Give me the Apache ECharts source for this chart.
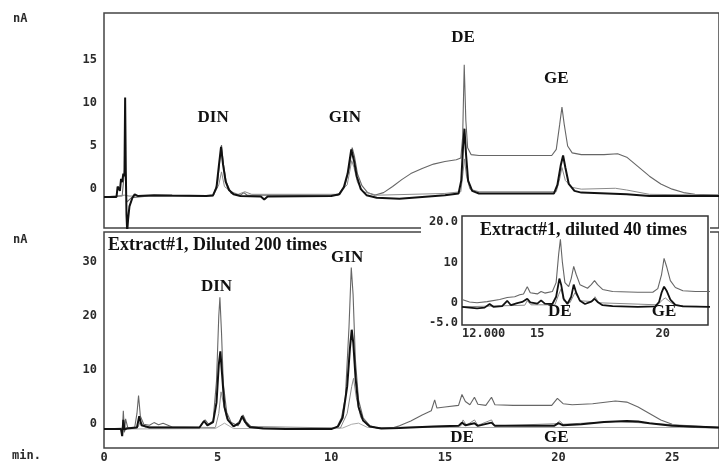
<!DOCTYPE html>
<html>
<head>
<meta charset="utf-8">
<script src="https://cdn.jsdelivr.net/npm/echarts@6.0.0/dist/echarts.min.js"></script>
<style>
html, body { margin: 0; padding: 0; background: #fff; }
#chart { width: 719px; height: 465px; }
</style>
</head>
<body>
<div id="chart"></div>
<script>
// tick labels
var mainTicksX = [0, 5, 10, 15, 20, 25];
var topTicksY = [0, 5, 10, 15];
var bottomTicksY = [0, 10, 20, 30];
var insetTicksX = [12, 15, 20];
var insetTicksY = [-5, 0, 10, 20];

// upper panel: standards (min, nA)
var topBlack = [[0,-0.9],[0.55,-0.9],[0.6,0.3],[0.65,0.5],[0.7,-0.2],[0.75,1.2],[0.8,0.8],[0.85,1.8],[0.9,1.5],[0.93,10.6],[0.96,2],[0.99,-3],[1.02,-4.9],[1.06,-3.5],[1.12,-2.0],[1.25,-1.0],[1.35,-0.6],[1.5,-0.8],[2.2,-0.7],[3.0,-0.75],[4.5,-0.8],[4.8,-0.7],[4.95,0.2],[5.05,2.6],[5.15,4.9],[5.24,2.8],[5.35,0.9],[5.5,-0.1],[5.7,-0.6],[6,-0.8],[6.9,-0.85],[7.05,-1.2],[7.2,-0.85],[10,-0.8],[10.35,-0.6],[10.55,0.2],[10.72,1.8],[10.88,4.6],[11.0,3.3],[11.12,1.5],[11.3,0.0],[11.55,-0.7],[12,-1],[13,-1.1],[14,-0.9],[15,-0.7],[15.6,-0.5],[15.72,1],[15.8,5.0],[15.86,7.0],[15.93,4],[16.02,1],[16.2,-0.2],[16.5,-0.5],[18,-0.5],[19.8,-0.5],[19.95,0.5],[20.1,2.8],[20.2,3.9],[20.3,2.5],[20.45,0.6],[20.7,-0.2],[21,-0.4],[23,-0.6],[24,-0.8],[25,-0.8],[27.1,-0.8]];
var topHump = [[0,-0.9],[0.8,-0.8],[0.93,3],[1.0,-1.5],[1.2,-1.0],[2,-0.8],[4.8,-0.8],[5.0,0.8],[5.1,3.5],[5.17,5.1],[5.25,3],[5.38,0.8],[5.6,-0.5],[6,-0.7],[6.15,-0.4],[6.3,-0.7],[10.3,-0.7],[10.6,0.4],[10.8,2.5],[10.92,4.8],[11.02,3.8],[11.15,1.8],[11.35,0.4],[11.6,-0.4],[11.9,-0.7],[12.3,-0.4],[12.7,0.3],[13.1,1.1],[13.5,1.8],[14,2.4],[14.5,2.9],[15,3.2],[15.5,3.4],[15.7,3.6],[15.78,6],[15.85,14.4],[15.92,8],[16.0,4.8],[16.15,4.0],[16.5,3.9],[18,3.9],[19.7,3.9],[19.9,4.6],[20.05,7.5],[20.15,9.5],[20.25,7.5],[20.4,5],[20.6,4.2],[21,4.0],[22,4.0],[22.6,4.1],[23,3.7],[23.5,2.6],[24,1.5],[24.5,0.6],[25,0.0],[25.5,-0.4],[26,-0.6],[27.1,-0.7]];
var topThird = [[0,-0.9],[0.9,-0.7],[1.1,-0.8],[4.8,-0.8],[5.05,0.5],[5.17,2],[5.3,0.3],[5.6,-0.3],[5.9,-0.6],[6.2,-0.3],[6.5,-0.6],[10.3,-0.6],[10.7,0.5],[10.9,3.3],[11.0,2.5],[11.15,0.8],[11.4,-0.3],[12,-0.7],[15,-0.5],[15.7,-0.3],[15.8,2],[15.86,3.5],[15.95,1.5],[16.1,0],[16.5,-0.3],[19.9,-0.3],[20.05,1.2],[20.15,2.5],[20.3,1],[20.6,0.2],[21,0.0],[22.5,0.1],[23,-0.1],[24,-0.6],[27.1,-0.7]];

// lower panel: extract #1 diluted 200 times
var botHump = [[0,-0.9],[0.75,-0.9],[0.8,-2],[0.85,2.5],[0.9,-1.5],[0.95,1],[1.05,-0.7],[1.35,-0.6],[1.45,2],[1.52,5.3],[1.6,1.5],[1.75,0],[2.0,-0.2],[2.2,0.3],[2.4,-0.1],[2.6,0.2],[3,-0.5],[4.2,-0.6],[4.35,0.3],[4.45,0.8],[4.6,0.0],[4.8,0.6],[4.95,8],[5.05,20],[5.1,23.5],[5.17,17],[5.25,7.5],[5.4,2.2],[5.6,0.3],[5.9,-0.3],[6.05,1.2],[6.12,1.7],[6.25,0.5],[6.5,-0.6],[8,-0.8],[10,-0.9],[10.25,-0.5],[10.45,1.2],[10.62,5],[10.78,18],[10.88,29],[10.96,24],[11.06,12],[11.2,4.5],[11.4,1.2],[11.7,-0.3],[12.1,-0.8],[12.6,-0.8],[13,-0.3],[13.5,0.6],[14,1.7],[14.4,2.5],[14.55,4.5],[14.65,3.0],[15,3.2],[15.6,3.5],[15.75,5.5],[15.9,4.2],[16.1,3.6],[16.3,5],[16.45,3.7],[16.8,3.5],[17.05,5],[17.2,3.6],[18,3.5],[19.7,3.5],[19.95,4.8],[20.2,3.8],[20.6,3.6],[21.5,3.8],[22.5,4.3],[23,4.1],[23.5,3.2],[24,2],[24.5,0.8],[25,0],[25.5,-0.4],[26,-0.6],[27.1,-0.7]];
var botBlack = [[0,-0.9],[0.75,-0.9],[0.8,-2.2],[0.85,0.8],[0.9,-1],[1.0,-0.8],[1.45,-0.6],[1.55,1.5],[1.65,-0.2],[2,-0.6],[4.2,-0.6],[4.4,0.6],[4.55,-0.2],[4.8,0.4],[4.95,4],[5.05,11],[5.12,13.5],[5.2,9],[5.3,3.2],[5.45,0.8],[5.7,-0.4],[5.95,0.2],[6.08,1.5],[6.2,0.5],[6.4,-0.5],[7,-0.8],[8,-0.9],[10,-0.9],[10.3,-0.4],[10.5,1.2],[10.7,7],[10.82,14],[10.9,17.5],[10.97,15],[11.07,8.5],[11.2,3.2],[11.4,0.7],[11.7,-0.4],[12.2,-0.8],[13,-0.7],[14,-0.5],[14.5,-0.4],[15.6,-0.3],[15.75,0.3],[15.9,-0.2],[16.3,0.2],[16.45,-0.3],[17.05,0.3],[17.2,-0.3],[19.8,-0.3],[20,0.2],[20.2,-0.2],[21,0],[22,0.4],[23,0.6],[23.5,0.5],[24,0.2],[25,-0.3],[27.1,-0.6]];
var botThird = [[0,-0.9],[0.85,-0.7],[1.5,-0.5],[1.6,0.5],[1.8,-0.5],[4.9,-0.6],[5.05,2],[5.15,6],[5.25,4],[5.4,1],[5.7,-0.3],[6.1,1],[6.3,-0.4],[10.4,-0.7],[10.7,2],[10.9,7],[10.98,8.5],[11.1,5],[11.3,1.2],[11.6,-0.3],[12,-0.7],[15.7,-0.3],[15.8,0.8],[15.95,-0.2],[16.3,0.8],[16.45,-0.2],[17.05,0.8],[17.2,-0.3],[19.9,0.1],[20.05,0.6],[20.2,0.0],[22.5,0.5],[23.5,0.3],[27.1,-0.6]];
var botFaint = [[0,-0.9],[4.9,-0.8],[5.3,0.2],[5.7,-0.8],[10.5,-0.7],[10.9,0],[11.2,0.2],[11.6,-0.6],[13,-0.6],[27.1,-0.6]];

// inset: extract #1 diluted 40 times
var insGray = [[12,0.8],[12.3,0.2],[12.6,0],[13,0.3],[13.5,0.8],[13.8,1.3],[14.1,1.5],[14.3,2],[14.45,2.2],[14.6,4],[14.72,2.5],[15,2.2],[15.15,2.8],[15.3,2.4],[15.6,2.8],[15.75,5],[15.85,12],[15.92,15.7],[16.0,10],[16.1,5],[16.25,4],[16.35,6],[16.45,9],[16.55,7],[16.7,4.5],[17,3.6],[17.15,4.5],[17.28,5.5],[17.4,4.5],[17.6,3.3],[18,2.8],[19,2.6],[19.6,2.6],[19.8,3.5],[19.95,7],[20.05,11],[20.15,9],[20.3,5.5],[20.5,3.8],[20.8,3],[21.3,2.8],[21.9,2.8]];
var insBlack = [[12,-1],[12.3,-1.2],[12.6,-1.4],[12.9,-1.2],[13.1,-0.3],[13.25,-1.0],[13.6,-0.8],[13.8,0.5],[13.95,-0.6],[14.2,-0.1],[14.4,0.2],[14.6,1],[14.72,0.1],[15.0,-0.2],[15.15,0.6],[15.3,-0.2],[15.6,-0.3],[15.75,1.5],[15.88,6],[15.95,4.5],[16.05,1],[16.2,-0.3],[16.35,1.5],[16.45,4.5],[16.55,2.5],[16.7,0.5],[16.9,-0.3],[17.15,0.3],[17.28,1],[17.4,0.2],[17.6,-0.6],[18,-0.8],[19,-1],[19.7,-0.9],[19.85,0.2],[19.95,2.5],[20.05,4],[20.15,3],[20.3,0.8],[20.5,-0.5],[20.8,-0.9],[21.9,-1]];
var insThird = [[12,-1],[14.5,-0.6],[14.6,0.5],[14.75,-0.5],[15.7,-0.5],[15.85,2],[15.95,3.5],[16.05,0.5],[16.3,0],[16.5,2.5],[16.7,0.5],[17.2,0.3],[17.3,1.5],[17.45,0],[19.8,-0.5],[20.0,0.8],[20.1,1.2],[20.25,0.4],[20.5,-0.7],[21.9,-1]];

// peak names [min, nA, text]
var topPeakNames = [[4.8, 8.3, 'DIN'], [10.6, 8.3, 'GIN'], [15.8, 17.5, 'DE'], [19.9, 12.8, 'GE']];
var botPeakNames = [[4.95, 25.4, 'DIN'], [10.7, 30.9, 'GIN'], [15.75, -2.4, 'DE'], [19.9, -2.4, 'GE']];
var insPeakNames = [[15.9, -2.2, 'DE'], [20.05, -2.3, 'GE']];

var monoFont = '"DejaVu Sans Mono", monospace';
var serifFont = '"Liberation Serif", "Times New Roman", serif';

var chart = echarts.init(document.getElementById('chart'));

function trace(data, idx, color, width, z) {
	return {
		type: 'line',
		xAxisIndex: idx,
		yAxisIndex: idx,
		data: data,
		showSymbol: false,
		symbol: 'none',
		animation: false,
		z: z,
		lineStyle: { color: color, width: width }
	};
}

function names(list, idx, z) {
	return {
		type: 'scatter',
		xAxisIndex: idx,
		yAxisIndex: idx,
		symbolSize: 1,
		z: z,
		animation: false,
		itemStyle: { color: 'rgba(0,0,0,0)', opacity: 1 },
		data: list.map(function (p) { return { value: [p[0], p[1]], name: p[2] }; }),
		label: {
			show: true,
			position: 'inside',
			formatter: function (p) { return p.name; },
			fontFamily: serifFont,
			fontWeight: 'bold',
			fontSize: 17,
			color: '#111',
			opacity: 1
		}
	};
}

function valueAxis(idx, min, max, ticks, showLabel, fmt, extra) {
	var ax = {
		type: 'value',
		gridIndex: idx,
		min: min,
		max: max,
		axisLine: { show: false },
		axisTick: { show: false },
		splitLine: { show: false },
		axisLabel: {
			show: showLabel,
			customValues: ticks,
			fontFamily: monoFont,
			fontWeight: 'bold',
			fontSize: 12,
			color: '#2a2a2a',
			formatter: fmt || function (v) { return String(v); }
		}
	};
	for (var k in extra) {
		if (k === 'axisLabel') {
			for (var j in extra[k]) ax.axisLabel[j] = extra[k][j];
		} else {
			ax[k] = extra[k];
		}
	}
	return ax;
}

chart.setOption({
	animation: false,
	backgroundColor: '#fff',
	grid: [
		{ left: 104, top: 13, right: -3, bottom: 237, show: true, borderColor: '#444', borderWidth: 1.5, backgroundColor: 'transparent' },
		{ left: 104, top: 232, right: -3, bottom: 17, show: true, borderColor: '#444', borderWidth: 1.5, backgroundColor: 'transparent' },
		{ left: 462, top: 216, width: 246, height: 109, show: true, borderColor: '#333', borderWidth: 1.5, backgroundColor: '#fff', z: 6 }
	],
	xAxis: [
		valueAxis(0, 0, 27.06, mainTicksX, false, null, {}),
		valueAxis(1, 0, 27.06, mainTicksX, true, null, { axisLabel: { margin: 4 } }),
		valueAxis(2, 12, 21.8, insetTicksX, true, function (v) { return v === 12 ? '12.000' : String(v); }, { z: 7, axisLabel: { margin: 3, alignMinLabel: 'left' } })
	],
	yAxis: [
		valueAxis(0, -4.5, 20.4, topTicksY, true, null, { axisLabel: { margin: 7 } }),
		valueAxis(1, -4.4, 35.6, bottomTicksY, true, null, { axisLabel: { margin: 7 } }),
		valueAxis(2, -5.5, 21.5, insetTicksY, true, function (v) { return v === 20 ? '20.0' : (v === -5 ? '-5.0' : String(v)); }, { z: 7, axisLabel: { margin: 4 } })
	],
	graphic: [
		{ type: 'rect', z: 5, shape: { x: 421, y: 213, width: 289, height: 114 }, style: { fill: '#fff' } },
		{ type: 'text', left: 13, top: 13, style: { text: 'nA', font: 'bold 12px ' + monoFont, fill: '#2a2a2a' } },
		{ type: 'text', left: 13, top: 234, style: { text: 'nA', font: 'bold 12px ' + monoFont, fill: '#2a2a2a' } },
		{ type: 'text', left: 12, top: 450, style: { text: 'min.', font: 'bold 12px ' + monoFont, fill: '#2a2a2a' } },
		{ type: 'text', left: 108, top: 236, z: 9, style: { text: 'Extract#1, Diluted 200 times', font: 'bold 18px ' + serifFont, fill: '#111' } },
		{ type: 'text', left: 480, top: 221, z: 9, style: { text: 'Extract#1, diluted 40 times', font: 'bold 18px ' + serifFont, fill: '#111' } }
	],
	series: [
		trace(topHump, 0, '#666', 1.1, 2),
		trace(topThird, 0, '#8a8a8a', 1, 2),
		trace(topBlack, 0, '#111', 2, 3),
		names(topPeakNames, 0, 4),
		trace(botFaint, 1, '#aaa', 1, 2),
		trace(botHump, 1, '#666', 1.1, 2),
		trace(botThird, 1, '#8a8a8a', 1, 2),
		trace(botBlack, 1, '#111', 2, 3),
		names(botPeakNames, 1, 4),
		trace(insGray, 2, '#666', 1.1, 8),
		trace(insThird, 2, '#8a8a8a', 1, 8),
		trace(insBlack, 2, '#111', 1.8, 8),
		names(insPeakNames, 2, 9)
	]
});
</script>
</body>
</html>
